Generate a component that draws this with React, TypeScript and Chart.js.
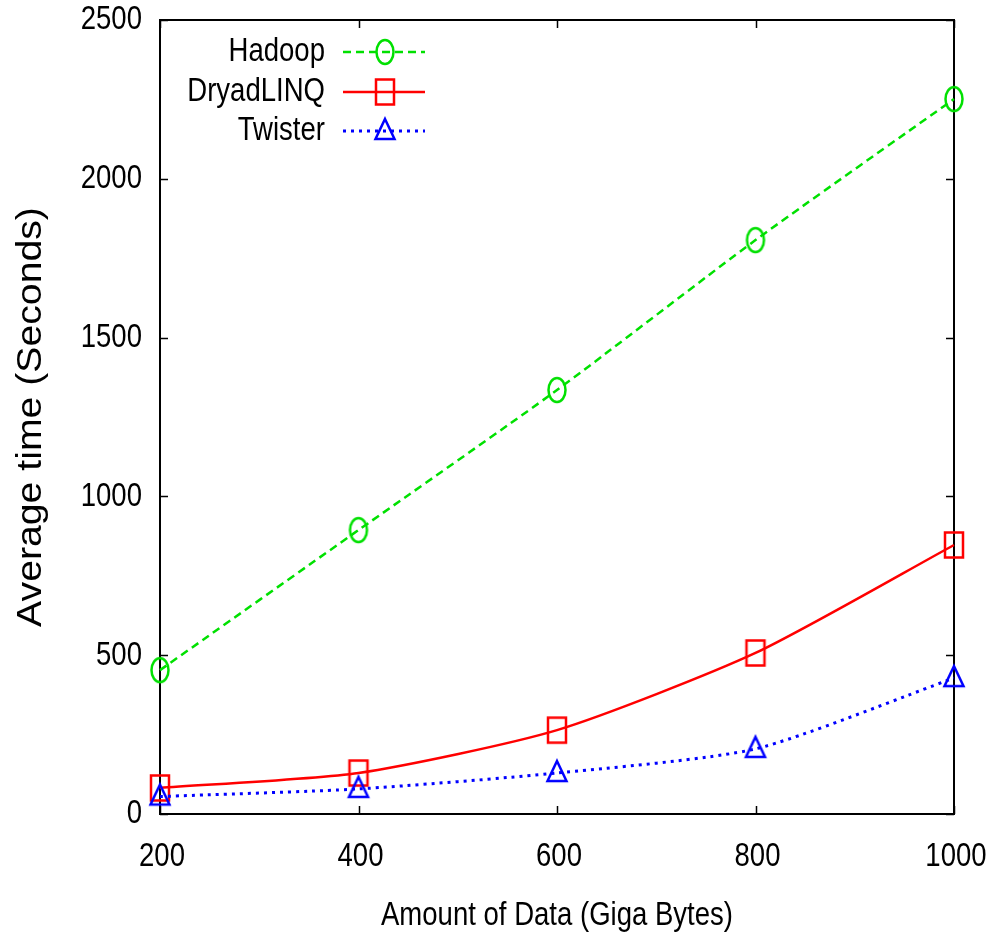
import React, { useEffect, useRef } from "react";
import { Chart, registerables } from "chart.js";

Chart.register(...registerables);

const dataSizes = [200, 400, 600, 800, 1000];
const hadoopTimes = [453, 894, 1335, 1807, 2251];
const dryadTimes = [82, 129, 264, 507, 847];
const twisterTimes = [55, 79, 129, 205, 428];
const yTicks = [0, 500, 1000, 1500, 2000, 2500];
const xTicks = [200, 400, 600, 800, 1000];
const seriesNames = ["Hadoop", "DryadLINQ", "Twister"];
const xTitle = "Amount of Data (Giga Bytes)";
const yTitle = "Average time (Seconds)";

const GREEN = "#00e000";
const RED = "#ff0000";
const BLUE = "#0000ff";
const SANS = '"Liberation Sans", Arial, sans-serif';
const SQUEEZE = 0.81;

function makeMarker(kind: string, color: string): HTMLCanvasElement {
  const c = document.createElement("canvas");
  c.width = 26;
  c.height = 32;
  const ctx = c.getContext("2d")!;
  ctx.strokeStyle = color;
  ctx.lineWidth = 2.5;
  const cx = 13, cy = 16;
  ctx.beginPath();
  if (kind === "circle") {
    ctx.ellipse(cx, cy, 8.5, 12, 0, 0, Math.PI * 2);
  } else if (kind === "rect") {
    ctx.rect(cx - 9, cy - 12.5, 18, 25);
  } else {
    ctx.moveTo(cx, cy - 12);
    ctx.lineTo(cx + 9.5, cy + 8);
    ctx.lineTo(cx - 9.5, cy + 8);
    ctx.closePath();
  }
  ctx.stroke();
  return c;
}

function narrowText(ctx: CanvasRenderingContext2D, text: string, x: number, y: number, align: CanvasTextAlign) {
  ctx.save();
  ctx.translate(x, y);
  ctx.scale(SQUEEZE, 1);
  ctx.font = `34px ${SANS}`;
  ctx.fillStyle = "#000";
  ctx.textAlign = align;
  ctx.textBaseline = "middle";
  ctx.fillText(text, 0, 0);
  ctx.restore();
}

export default function App() {
  const ref = useRef<HTMLCanvasElement | null>(null);

  useEffect(() => {
    if (!ref.current) return;
    const markers = [
      makeMarker("circle", GREEN),
      makeMarker("rect", RED),
      makeMarker("tri", BLUE),
    ];
    const colors = [GREEN, RED, BLUE];
    const dashes = [[8, 5], [], [3, 5]];
    const widths = [2.5, 2.5, 3];

    const frame = {
      id: "frame",
      beforeDatasetsDraw(chart: any) {
        const { ctx, chartArea: a, scales } = chart;
        ctx.save();
        ctx.strokeStyle = "#000";
        ctx.lineWidth = 2;
        ctx.strokeRect(a.left, a.top, a.right - a.left, a.bottom - a.top);
        ctx.lineWidth = 1.5;
        const tl = 8;
        ctx.beginPath();
        xTicks.forEach((v) => {
          const x = Math.round(scales.x.getPixelForValue(v)) + 0.5;
          ctx.moveTo(x, a.bottom);
          ctx.lineTo(x, a.bottom - tl);
          ctx.moveTo(x, a.top);
          ctx.lineTo(x, a.top + tl);
        });
        yTicks.forEach((v) => {
          const y = Math.round(scales.y.getPixelForValue(v)) + 0.5;
          ctx.moveTo(a.left, y);
          ctx.lineTo(a.left + tl, y);
          ctx.moveTo(a.right, y);
          ctx.lineTo(a.right - tl, y);
        });
        ctx.stroke();
        ctx.restore();

        // tick labels
        xTicks.forEach((v) => {
          narrowText(ctx, String(v), scales.x.getPixelForValue(v) + 2, a.bottom + 43, "center");
        });
        yTicks.forEach((v) => {
          narrowText(ctx, String(v), a.left - 18, scales.y.getPixelForValue(v), "right");
        });
        narrowText(ctx, xTitle, (a.left + a.right) / 2, 916, "center");

        // y title (rotated, stretched along the text)
        ctx.save();
        ctx.translate(31, (a.top + a.bottom) / 2);
        ctx.rotate(-Math.PI / 2);
        ctx.scale(1.12, 1);
        ctx.font = `35px ${SANS}`;
        ctx.fillStyle = "#000";
        ctx.textAlign = "center";
        ctx.textBaseline = "middle";
        ctx.fillText(yTitle, 0, 0);
        ctx.restore();
      },
    };

    const legend = {
      id: "gpLegend",
      afterDraw(chart: any) {
        const { ctx } = chart;
        ctx.save();
        const rows = [52, 92, 131];
        seriesNames.forEach((name, i) => {
          const y = rows[i];
          narrowText(ctx, name, 325, y, "right");
          ctx.strokeStyle = colors[i];
          ctx.lineWidth = widths[i];
          ctx.setLineDash(dashes[i]);
          ctx.beginPath();
          ctx.moveTo(343, y);
          ctx.lineTo(425, y);
          ctx.stroke();
          ctx.setLineDash([]);
          const m = markers[i];
          ctx.drawImage(m, 385 - m.width / 2, y - m.height / 2);
        });
        ctx.restore();
      },
    };

    const series = [hadoopTimes, dryadTimes, twisterTimes];
    const chart = new Chart(ref.current, {
      type: "line",
      data: {
        datasets: series.map((vals, i) => ({
          label: seriesNames[i],
          data: dataSizes.map((x, j) => ({ x, y: vals[j] })),
          borderColor: colors[i],
          borderWidth: widths[i],
          borderDash: dashes[i],
          pointStyle: markers[i] as any,
          pointRadius: 10,
          tension: 0.22,
          fill: false,
          clip: false as any,
          order: 2 - i,
        })),
      },
      options: {
        animation: false,
        responsive: true,
        maintainAspectRatio: false,
        layout: { padding: { left: 0, right: 48, top: 20, bottom: 0 } },
        plugins: { legend: { display: false }, tooltip: { enabled: false } },
        scales: {
          x: {
            type: "linear",
            min: 200,
            max: 1000,
            afterBuildTicks: (s: any) => {
              s.ticks = xTicks.map((v) => ({ value: v }));
            },
            afterFit: (s: any) => {
              s.height = 123;
              s.paddingLeft = 0;
              s.paddingRight = 0;
              s.paddingTop = 0;
              s.paddingBottom = 0;
            },
            grid: { display: false, drawTicks: false },
            border: { display: false },
            ticks: { display: false },
            title: { display: false },
          },
          y: {
            min: 0,
            max: 2500,
            afterBuildTicks: (s: any) => {
              s.ticks = yTicks.map((v) => ({ value: v }));
            },
            afterFit: (s: any) => {
              s.width = 160;
              s.paddingLeft = 0;
              s.paddingRight = 0;
              s.paddingTop = 0;
              s.paddingBottom = 0;
            },
            grid: { display: false, drawTicks: false },
            border: { display: false },
            ticks: { display: false },
            title: { display: false },
          },
        },
      },
      plugins: [frame, legend],
    });
    return () => chart.destroy();
  }, []);

  return (
    <div
      style={{
        position: "absolute",
        left: 0,
        top: 0,
        width: 1002,
        height: 937,
        background: "#fff",
      }}
    >
      <canvas ref={ref} />
    </div>
  );
}
